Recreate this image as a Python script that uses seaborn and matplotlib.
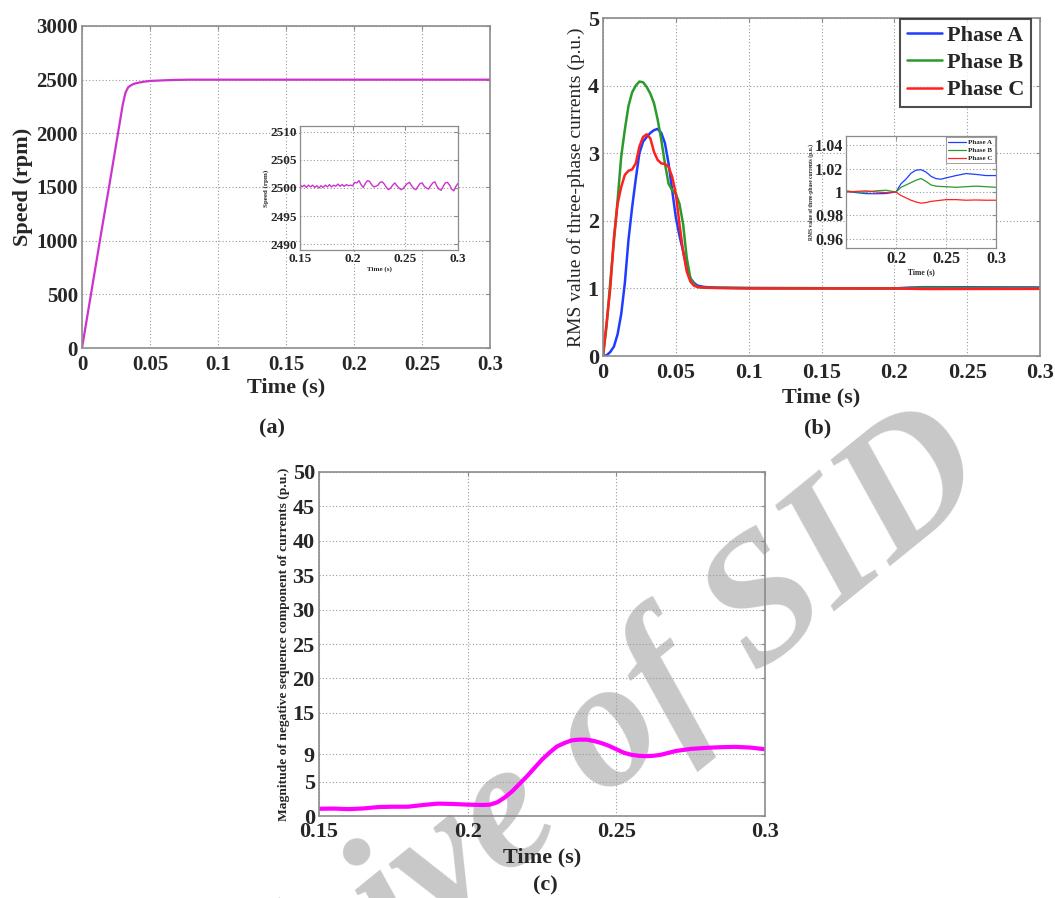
import numpy as np
import pandas as pd
import matplotlib
matplotlib.use("Agg")
import matplotlib.pyplot as plt
import seaborn as sns

# ---------------- data ----------------
# (a) speed main
t_a = [0, 0.005, 0.01, 0.015, 0.02, 0.025, 0.03, 0.032, 0.034, 0.037, 0.04, 0.045,
       0.05, 0.06, 0.07, 0.08, 0.1, 0.2, 0.3]
speed_a = [0, 380, 760, 1140, 1510, 1890, 2270, 2380, 2430, 2455, 2468, 2480,
           2488, 2494, 2498, 2500, 2500, 2500, 2500]

# (a) speed inset
t_ai = [0.150, 0.152, 0.154, 0.156, 0.158, 0.160, 0.162, 0.164, 0.166, 0.168, 0.170,
        0.172, 0.174, 0.176, 0.178, 0.180, 0.182, 0.184, 0.186, 0.188, 0.190, 0.192,
        0.194, 0.196, 0.198, 0.200, 0.202, 0.204, 0.206, 0.208, 0.210, 0.212, 0.214,
        0.216, 0.218, 0.220, 0.222, 0.224, 0.226, 0.228, 0.230, 0.232, 0.234, 0.236,
        0.238, 0.240, 0.242, 0.244, 0.246, 0.248, 0.250, 0.252, 0.254, 0.256, 0.258,
        0.260, 0.262, 0.264, 0.266, 0.268, 0.270, 0.272, 0.274, 0.276, 0.278, 0.280,
        0.282, 0.284, 0.286, 0.288, 0.290, 0.292, 0.294, 0.296, 0.298, 0.300]
speed_ai = [2500.6, 2500.2, 2500.5, 2500.1, 2500.5, 2500.2, 2500.5, 2500.1, 2500.4,
            2500.0, 2500.4, 2500.1, 2500.5, 2500.2, 2500.6, 2500.2, 2500.5, 2500.3,
            2500.7, 2500.3, 2500.6, 2500.3, 2500.6, 2500.4, 2500.5, 2500.4, 2501.0,
            2500.9, 2501.3, 2500.6, 2500.1, 2500.8, 2501.3, 2501.2, 2500.6, 2500.2,
            2500.3, 2500.5, 2501.0, 2501.1, 2500.7, 2500.1, 2499.7, 2500.0, 2500.5,
            2500.9, 2500.4, 2500.0, 2499.7, 2499.9, 2500.4, 2500.8, 2501.0, 2500.4,
            2499.9, 2499.7, 2500.3, 2500.8, 2500.9, 2500.3, 2500.0, 2499.8, 2500.4,
            2500.9, 2501.1, 2500.3, 2499.8, 2499.6, 2500.3, 2500.9, 2501.0, 2500.5,
            2499.8, 2499.5, 2500.3, 2500.8]

# (b) RMS currents main
t_b = [0, 0.0025, 0.005, 0.0075, 0.01, 0.0125, 0.015, 0.0175, 0.02, 0.0225, 0.025,
       0.0275, 0.03, 0.0325, 0.035, 0.0375, 0.04, 0.0425, 0.045, 0.0475, 0.05, 0.0525,
       0.055, 0.0575, 0.06, 0.0625, 0.065, 0.07, 0.08, 0.1, 0.2, 0.21, 0.22, 0.3]
rms_A = [0, 0.01, 0.06, 0.14, 0.32, 0.62, 1.08, 1.72, 2.2, 2.62, 3.0, 3.17, 3.24, 3.3,
         3.34, 3.36, 3.3, 3.15, 2.85, 2.45, 2.05, 1.78, 1.55, 1.3, 1.15, 1.08, 1.04,
         1.02, 1.01, 1.005, 1.0, 1.011, 1.018, 1.014]
rms_B = [0, 0.45, 1.1, 1.7, 2.3, 2.95, 3.35, 3.7, 3.9, 4.0, 4.06, 4.05, 3.98, 3.88,
         3.74, 3.5, 3.2, 2.85, 2.55, 2.45, 2.4, 2.25, 1.95, 1.45, 1.15, 1.06, 1.02,
         1.01, 1.01, 1.005, 1.0, 1.004, 1.01, 1.004]
rms_C = [0, 0.5, 1.0, 1.75, 2.25, 2.5, 2.68, 2.74, 2.76, 2.85, 3.1, 3.24, 3.28, 3.22,
         3.02, 2.9, 2.85, 2.84, 2.8, 2.65, 2.4, 1.95, 1.55, 1.25, 1.1, 1.04, 1.02,
         1.01, 1.005, 1.0, 1.0, 0.995, 0.991, 0.993]

# (b) inset
t_bi = [0.15, 0.16, 0.17, 0.18, 0.19, 0.2, 0.205, 0.21, 0.215, 0.22, 0.225, 0.23,
        0.235, 0.24, 0.245, 0.25, 0.26, 0.27, 0.28, 0.29, 0.3]
rmsi_A = [1.0006, 0.9995, 0.9986, 0.9985, 0.9987, 1.0, 1.007, 1.011, 1.016, 1.0186,
          1.019, 1.017, 1.0134, 1.0114, 1.0109, 1.012, 1.014, 1.0157, 1.015, 1.014, 1.014]
rmsi_B = [1.001, 1.0, 1.0, 1.001, 1.0015, 1.0, 1.004, 1.006, 1.008, 1.010, 1.0115,
          1.009, 1.006, 1.005, 1.0047, 1.0045, 1.004, 1.0045, 1.005, 1.0045, 1.004]
rmsi_C = [1.0, 1.0005, 1.001, 1.0, 0.9995, 1.0, 0.997, 0.995, 0.993, 0.9915, 0.9905,
          0.991, 0.992, 0.9925, 0.993, 0.9935, 0.9935, 0.993, 0.9932, 0.993, 0.993]

# (c) negative sequence
t_c = [0.15, 0.155, 0.16, 0.165, 0.17, 0.175, 0.18, 0.185, 0.19, 0.195, 0.2, 0.205,
       0.2075, 0.21, 0.2125, 0.215, 0.2175, 0.22, 0.2225, 0.225, 0.2275, 0.23, 0.2325,
       0.235, 0.2375, 0.24, 0.2425, 0.245, 0.2475, 0.25, 0.2525, 0.255, 0.2575, 0.26,
       0.2625, 0.265, 0.27, 0.275, 0.28, 0.285, 0.29, 0.295, 0.3]
neg_c = [1.05, 1.08, 1.0, 1.1, 1.3, 1.35, 1.35, 1.6, 1.8, 1.75, 1.65, 1.6, 1.65, 2.0,
         2.7, 3.6, 4.7, 5.8, 7.0, 8.2, 9.2, 10.1, 10.6, 11.0, 11.1, 11.1, 10.9, 10.6,
         10.2, 9.7, 9.2, 8.9, 8.75, 8.7, 8.75, 8.9, 9.45, 9.75, 9.9, 10.0, 10.05, 9.95, 9.7]

phases = ["Phase A", "Phase B", "Phase C"]
phase_colors = ["#1f3cff", "#2a9a2a", "#ff2020"]

xt_a = [0, 0.05, 0.1, 0.15, 0.2, 0.25, 0.3]
xt_a_lbl = ["0", "0.05", "0.1", "0.15", "0.2", "0.25", "0.3"]
yt_a = [0, 500, 1000, 1500, 2000, 2500, 3000]
yt_ai = [2490, 2495, 2500, 2505, 2510]
xt_ai = [0.15, 0.2, 0.25, 0.3]
xt_ai_lbl = ["0.15", "0.2", "0.25", "0.3"]
yt_b = [0, 1, 2, 3, 4, 5]
yt_bi = [0.96, 0.98, 1.0, 1.02, 1.04]
yt_bi_lbl = ["0.96", "0.98", "1", "1.02", "1.04"]
xt_bi = [0.2, 0.25, 0.3]
xt_bi_lbl = ["0.2", "0.25", "0.3"]
yt_c = [0, 5, 9, 15, 20, 25, 30, 35, 40, 45, 50]
xt_c = [0.15, 0.2, 0.25, 0.3]
xt_c_lbl = ["0.15", "0.2", "0.25", "0.3"]

# ---------------- style ----------------
sns.set_style("white")
plt.rcParams["font.family"] = ["Liberation Serif", "DejaVu Serif"]
plt.rcParams["font.weight"] = "bold"
plt.rcParams["axes.labelweight"] = "bold"

W, H = 1055, 898
fig = plt.figure(figsize=(W / 100, H / 100), dpi=100)
fig.patch.set_facecolor("white")


def px_axes(x0, y0, x1, y1):
    return fig.add_axes([x0 / W, 1 - y1 / H, (x1 - x0) / W, (y1 - y0) / H])


def style(ax, tsize, spine="#8c8c8c", lw=1.2, xpad=2, ypad=2):
    ax.set_facecolor("none")
    for s in ax.spines.values():
        s.set_visible(True)
        s.set_color(spine)
        s.set_linewidth(lw)
    ax.grid(True, color="#9a9a9a", linestyle=(0, (1, 2)), linewidth=0.8)
    ax.tick_params(direction="in", length=3, width=0.8, color=spine,
                   top=True, right=True, labelsize=tsize)
    ax.tick_params(axis="x", pad=xpad)
    ax.tick_params(axis="y", pad=ypad)
    for lbl in ax.get_xticklabels() + ax.get_yticklabels():
        lbl.set_fontweight("bold")


# watermark (behind everything)
fig.text(525 / W, 1 - 812 / H, "Archive of SID", fontsize=132, color="#c8c8c8",
         rotation=39, ha="center", va="center", fontstyle="italic",
         fontweight="bold", zorder=-5)

# ---------------- (a) ----------------
ax_a = px_axes(82, 26, 490, 348)
sns.lineplot(x=t_a, y=speed_a, ax=ax_a, color="#cc33cc", linewidth=1.6)
ax_a.set_xlim(0, 0.3)
ax_a.set_ylim(0, 3000)
ax_a.set_xticks(xt_a)
ax_a.set_xticklabels(xt_a_lbl)
ax_a.set_yticks(yt_a)
style(ax_a, 15, xpad=5, ypad=3)
ax_a.set_xlabel("Time (s)", fontsize=16, labelpad=2)
ax_a.set_ylabel("Speed (rpm)", fontsize=16, labelpad=2)

ax_ai = px_axes(300, 126, 458, 250)
sns.lineplot(x=t_ai, y=speed_ai, ax=ax_ai, color="#cc33cc", linewidth=1.0)
ax_ai.set_xlim(0.15, 0.3)
ax_ai.set_ylim(2489, 2511)
ax_ai.set_xticks(xt_ai)
ax_ai.set_xticklabels(xt_ai_lbl)
ax_ai.set_yticks(yt_ai)
style(ax_ai, 9.5, lw=0.9)
ax_ai.set_facecolor("white")
ax_ai.set_xlabel("Time (s)", fontsize=5, labelpad=1)
ax_ai.set_ylabel("Speed (rpm)", fontsize=5, labelpad=1)

# ---------------- (b) ----------------
ax_b = px_axes(603, 18, 1040, 356)
for name, vals, col in zip(phases, [rms_A, rms_B, rms_C], phase_colors):
    sns.lineplot(x=t_b, y=vals, ax=ax_b, color=col, linewidth=1.8, label=name)
ax_b.set_xlim(0, 0.3)
ax_b.set_ylim(0, 5)
ax_b.set_xticks(xt_a)
ax_b.set_xticklabels(xt_a_lbl)
ax_b.set_yticks(yt_b)
style(ax_b, 16, xpad=5, ypad=3)
ax_b.set_xlabel("Time (s)", fontsize=16, labelpad=3)
ax_b.set_ylabel("RMS value of three-phase currents (p.u.)", fontsize=14,
                fontweight="normal", labelpad=2)
leg = ax_b.legend(loc="upper right", bbox_to_anchor=(0.979, 0.998), borderaxespad=0,
                  fontsize=16, frameon=True, fancybox=False, handlelength=1.6,
                  handletextpad=0.2, borderpad=0.3, labelspacing=0.3)
leg.get_frame().set_edgecolor("#222222")
leg.get_frame().set_linewidth(1.5)
for txt in leg.get_texts():
    txt.set_fontweight("bold")

ax_bi = px_axes(846, 136, 996, 248)
for name, vals, col in zip(phases, [rmsi_A, rmsi_B, rmsi_C], phase_colors):
    sns.lineplot(x=t_bi, y=vals, ax=ax_bi, color=col, linewidth=0.9, label=name)
ax_bi.set_xlim(0.15, 0.3)
ax_bi.set_ylim(0.9523, 1.0477)
ax_bi.set_xticks(xt_bi)
ax_bi.set_xticklabels(xt_bi_lbl)
ax_bi.set_yticks(yt_bi)
ax_bi.set_yticklabels(yt_bi_lbl)
style(ax_bi, 11.5, lw=0.9)
ax_bi.set_facecolor("white")
ax_bi.set_xlabel("Time (s)", fontsize=5.5, labelpad=1)
ax_bi.set_ylabel("RMS value of three-phase currents (p.u.)", fontsize=4, labelpad=1)
lg2 = ax_bi.legend(loc="upper right", bbox_to_anchor=(0.99, 0.99), borderaxespad=0,
                   fontsize=5, frameon=True, fancybox=False, handlelength=2.5,
                   handletextpad=0.3, borderpad=0.3, labelspacing=0.3)
lg2.get_frame().set_edgecolor("#888888")
lg2.get_frame().set_linewidth(0.7)

# ---------------- (c) ----------------
ax_c = px_axes(319, 472, 765, 816)
sns.lineplot(x=t_c, y=neg_c, ax=ax_c, color="#ff00ff", linewidth=3.0)
ax_c.set_xlim(0.15, 0.3)
ax_c.set_ylim(0, 50)
ax_c.set_xticks(xt_c)
ax_c.set_xticklabels(xt_c_lbl)
ax_c.set_yticks(yt_c)
style(ax_c, 16, xpad=4, ypad=3)
ax_c.set_xlabel("Time (s)", fontsize=16, labelpad=4)
ax_c.set_ylabel("Magnitude of negative sequence component of currents (p.u.)",
                fontsize=9.7, labelpad=2)

# panel labels
fig.text(272 / W, 1 - 428 / H, "(a)", fontsize=16, fontweight="bold",
         ha="center", va="center")
fig.text(818 / W, 1 - 428 / H, "(b)", fontsize=16, fontweight="bold",
         ha="center", va="center")
fig.text(545 / W, 1 - 885 / H, "(c)", fontsize=16, fontweight="bold",
         ha="center", va="center")

fig.savefig("out.png", dpi=100, facecolor="white")
